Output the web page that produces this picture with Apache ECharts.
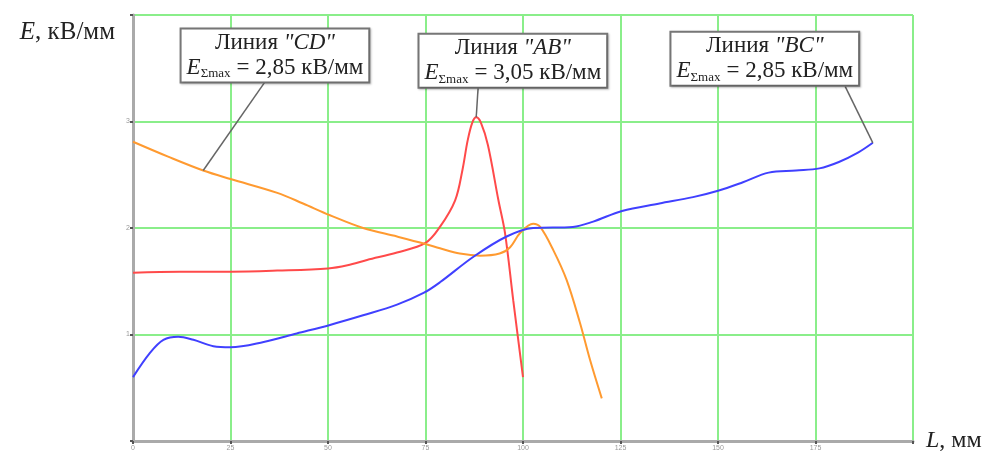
<!DOCTYPE html>
<html>
<head>
<meta charset="utf-8">
<script src="https://cdn.jsdelivr.net/npm/echarts@6/dist/echarts.min.js"></script>
<style>
html,body{margin:0;padding:0;background:#fff;}
#chart{width:990px;height:454px;}
</style>
</head>
<body>
<div id="chart"></div>
<script>
// ---- data (L, mm ; E, kV/mm) ----
const lineAB = [[0,1.58],[12,1.59],[25,1.59],[37,1.60],[50,1.62],[55,1.65],[60,1.70],[67.7,1.77],[75,1.86],[78.7,2.01],[82.6,2.26],[84.5,2.55],[85.8,2.82],[87,2.99],[88,3.04],[89.2,2.99],[91,2.78],[93.7,2.26],[95.4,1.95],[97.5,1.32],[100,0.6]];
const lineCD = [[0,2.81],[9,2.67],[18,2.54],[25,2.46],[37,2.33],[43.6,2.23],[50.5,2.12],[59,2.0],[67.7,1.92],[75,1.85],[78.7,1.81],[83.8,1.76],[89,1.74],[94,1.76],[96.7,1.82],[99.2,1.95],[102.6,2.04],[104.4,2.01],[107.8,1.79],[111.2,1.51],[114.6,1.11],[117.2,0.76],[120.2,0.40]];
const lineBC = [[0,0.60],[4.4,0.83],[7.8,0.95],[11.6,0.98],[15.5,0.95],[20.6,0.89],[25,0.88],[33.5,0.93],[42,1.01],[50.5,1.09],[59,1.18],[67.7,1.28],[74.5,1.39],[78.7,1.49],[87.3,1.73],[95.8,1.92],[102.6,2.0],[112.8,2.01],[118,2.06],[125.4,2.16],[135,2.23],[143.6,2.29],[150,2.35],[156.4,2.43],[163,2.52],[170,2.54],[176,2.56],[181,2.62],[186,2.71],[189.7,2.80]];

// annotations
const annNames = ['"AB"', '"CD"', '"BC"'];
const annMax = ['3,05', '2,85', '2,85'];
const annBoxAt = [[97.4,3.57],[36.4,3.62],[162,3.59]];
const annLeaderFrom = [[88.5,3.32],[33.8,3.37],[182.6,3.33]];
const annLeaderTo = [[88,3.04],[18,2.54],[189.7,2.80]];

const xTicks = [0,25,50,75,100,125,150,175];
const yTicks = [1,2,3];

const colors = ['#ff4a4a', '#ff9a30', '#4040ff'];
const seriesData = [lineAB, lineCD, lineBC];
const seriesNames = ['AB', 'CD', 'BC'];

const serif = '"Liberation Serif","Times New Roman",serif';
const richBox = {
  n: {fontFamily: serif, fontSize: 23, lineHeight: 25, color: '#222'},
  i: {fontFamily: serif, fontSize: 23, lineHeight: 25, color: '#222', fontStyle: 'italic'},
  e: {fontFamily: serif, fontSize: 23, lineHeight: 25, color: '#222', fontStyle: 'italic'},
  s: {fontFamily: serif, fontSize: 13, lineHeight: 10, color: '#222', verticalAlign: 'bottom', padding: [0, 6, 0, 0]}
};

const series = seriesData.map((d, k) => ({
  name: seriesNames[k],
  type: 'line',
  data: d,
  smooth: 0.35,
  showSymbol: false,
  symbol: 'none',
  lineStyle: {color: colors[k], width: 2},
  itemStyle: {color: colors[k]},
  z: 3,
  markLine: {
    silent: true,
    symbol: ['none', 'none'],
    label: {show: false},
    lineStyle: {color: '#666', width: 1.5, type: 'solid'},
    data: [[{coord: annLeaderFrom[k]}, {coord: annLeaderTo[k]}]],
    z: 4
  },
  markPoint: {
    silent: true,
    symbol: 'rect',
    symbolSize: 1,
    itemStyle: {color: 'rgba(0,0,0,0)'},
    z: 10,
    label: {
      show: true,
      position: 'inside',
      align: 'center',
      verticalAlign: 'middle',
      backgroundColor: '#fff',
      borderColor: '#777',
      borderWidth: 2,
      padding: [1, 5, 1, 5],
      shadowColor: 'rgba(0,0,0,0.25)',
      shadowOffsetX: 1,
      shadowOffsetY: 1,
      shadowBlur: 2,
      formatter: '{n|Линия }{i|' + annNames[k] + '}\n{e|E}{s|Σmax}{n|= ' + annMax[k] + ' кВ/мм}',
      rich: richBox
    },
    data: [{coord: annBoxAt[k]}]
  }
}));

const chart = echarts.init(document.getElementById('chart'));
chart.setOption({
  animation: false,
  backgroundColor: '#fff',
  grid: {left: 133, right: 77, top: 15, bottom: 13, containLabel: false},
  xAxis: {
    type: 'value', min: 0, max: 200, interval: 25,
    name: '{i|L}{n|, мм}',
    nameLocation: 'end', nameGap: 13,
    nameTextStyle: {align: 'left', verticalAlign: 'middle', rich: {
      i: {fontFamily: serif, fontSize: 24, fontStyle: 'italic', color: '#222'},
      n: {fontFamily: serif, fontSize: 24, color: '#222'}
    }},
    axisLine: {show: true, lineStyle: {color: '#aaa', width: 3}},
    axisTick: {show: true, length: 3, lineStyle: {color: '#555', width: 2}},
    axisLabel: {fontSize: 7, color: '#999', margin: 4,
      formatter: v => xTicks.indexOf(v) >= 0 ? String(v) : ''},
    splitLine: {show: true, lineStyle: {color: '#8aee8a', width: 2}}
  },
  yAxis: {
    type: 'value', min: 0, max: 4, interval: 1,
    name: '{i|E}{n|, кВ/мм}',
    nameLocation: 'end', nameGap: -17,
    nameTextStyle: {align: 'right', verticalAlign: 'middle', padding: [0, 18, 0, 0], rich: {
      i: {fontFamily: serif, fontSize: 25, fontStyle: 'italic', color: '#222'},
      n: {fontFamily: serif, fontSize: 25, color: '#222'}
    }},
    axisLine: {show: true, lineStyle: {color: '#aaa', width: 3}},
    axisTick: {show: true, length: 3, lineStyle: {color: '#555', width: 2}},
    axisLabel: {fontSize: 7, color: '#999', margin: 3,
      formatter: v => yTicks.indexOf(v) >= 0 ? String(v) : ''},
    splitLine: {show: true, lineStyle: {color: '#8aee8a', width: 2}}
  },
  series: series
});
</script>
</body>
</html>
